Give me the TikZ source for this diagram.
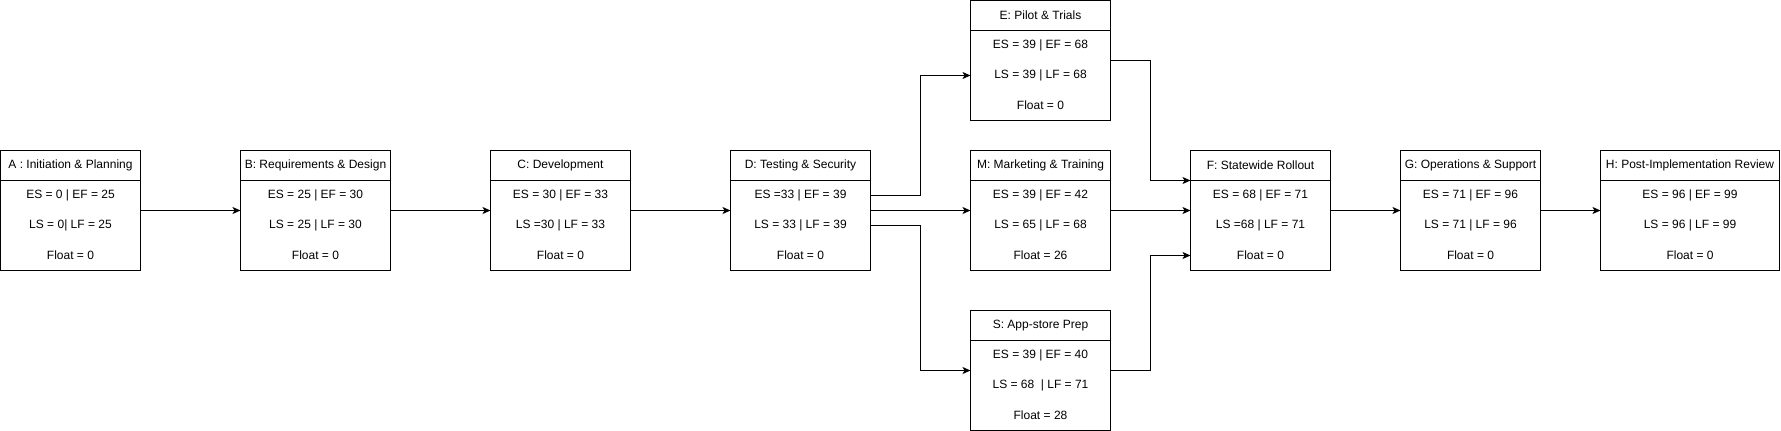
\documentclass[tikz,border=0pt]{standalone}
\usepackage{fontspec}
\setmainfont{Liberation Sans}
\usetikzlibrary{arrows.meta,fit}
\newcommand{\pertbox}[8]{%
  \node[hdr, minimum width=#4, anchor=north west] (#1h) at (#2,#3) {#5};
  \node[rowbox, minimum width=#4, anchor=north] (#1es) at (#1h.south) {#6};
  \node[rowbox, minimum width=#4, anchor=north] (#1ls) at (#1es.south) {#7};
  \node[rowbox, minimum width=#4, anchor=north] (#1fl) at (#1ls.south) {#8};
  \node[boxframe, fit=(#1h)(#1fl)] (#1) {};
  \draw[boxline] (#1h.south west) -- (#1h.south east);
}
\begin{document}
\begin{tikzpicture}[x=1pt,y=-1pt,
  every node/.style={font=\fontsize{12pt}{14pt}\selectfont},
  hdr/.style={rectangle, inner sep=0pt, outer sep=0pt, minimum height=30pt},
  rowbox/.style={rectangle, inner sep=0pt, outer sep=0pt, minimum height=30pt},
  boxframe/.style={draw, line width=1pt, inner sep=0pt, outer sep=0pt},
  boxline/.style={line width=1pt},
  conn/.style={line width=1pt, -{Stealth[length=8pt,width=7pt,inset=2pt]}}]
\useasboundingbox (0,0) rectangle (1781,431);
\pertbox{A}{0.5}{150.5}{140}{A : Initiation \& Planning}{ES = 0 | EF = 25}{LS = 0| LF = 25}{Float = 0}
\pertbox{B}{240.5}{150.5}{150}{B: Requirements \& Design}{ES = 25 | EF = 30}{LS = 25 | LF = 30}{Float = 0}
\pertbox{C}{490.5}{150.5}{140}{C: Development}{ES = 30 | EF = 33}{LS =30 | LF = 33}{Float = 0}
\pertbox{D}{730.5}{150.5}{140}{D: Testing \& Security}{ES =33 | EF = 39}{LS = 33 | LF = 39}{Float = 0}
\pertbox{E}{970.5}{0.5}{140}{E: Pilot \& Trials}{ES = 39 | EF = 68}{LS = 39 | LF = 68}{Float = 0}
\pertbox{M}{970.5}{150.5}{140}{M: Marketing \& Training}{ES = 39 | EF = 42}{LS = 65 | LF = 68}{Float = 26}
\pertbox{S}{970.5}{310.5}{140}{S: App-store Prep}{ES = 39 | EF = 40}{LS = 68\ \ | LF = 71}{Float = 28}
\pertbox{F}{1190.5}{150.5}{140}{F: Statewide Rollout}{ES = 68 | EF = 71}{LS =68 | LF = 71}{Float = 0}
\pertbox{G}{1400.5}{150.5}{140}{G: Operations \& Support}{ES = 71 | EF = 96}{LS = 71 | LF = 96}{Float = 0}
\pertbox{H}{1600.5}{150.5}{179}{H: Post-Implementation Review}{ES = 96 | EF = 99}{LS = 96 | LF = 99}{Float = 0}
\draw[conn] (A.east) -- (B.west);
\draw[conn] (B.east) -- (C.west);
\draw[conn] (C.east) -- (D.west);
\draw[conn] (Des.east) -- ++(50,0) |- (Els.west);
\draw[conn] (D.east) -- (M.west);
\draw[conn] (Dls.east) -- ++(50,0) |- (S.west);
\draw[conn] (E.east) -- ++(40,0) |- (Fh.south west);
\draw[conn] (M.east) -- (F.west);
\draw[conn] (S.east) -- ++(40,0) |- (Ffl.west);
\draw[conn] (F.east) -- (G.west);
\draw[conn] (G.east) -- (H.west);
\end{tikzpicture}
\end{document}
